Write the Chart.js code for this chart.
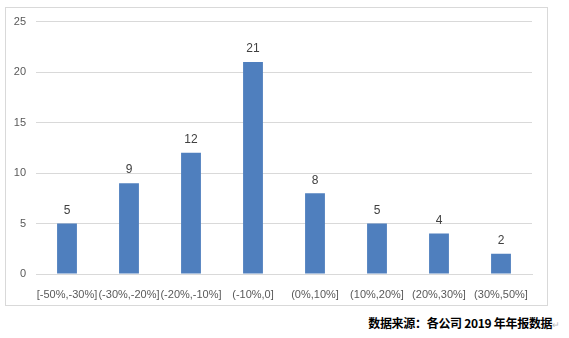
<!DOCTYPE html>
<html lang="zh">
<head>
    <meta charset="UTF-8">
    <title>区间分布</title>
    <script src="https://cdn.jsdelivr.net/npm/chart.js"></script>
    <style>
        body { margin: 0; padding: 0; background: #fff; width: 569px; height: 338px; position: relative; overflow: hidden; }
        .box { position: absolute; left: 5px; top: 7px; width: 541px; height: 297px; border: 1px solid #d9d9d9; }
        .box canvas { position: absolute; left: 0; top: -3px; }
        .source { position: absolute; right: 9px; top: 314px; font-family: "Noto Sans CJK SC", sans-serif; font-weight: bold; font-size: 12px; color: #000; letter-spacing: -0.3px; }
        .source span { color: #bbb; font-weight: normal; font-size: 9px; }
    </style>
</head>
<body>
    <div class="box">
        <canvas id="chart" width="541" height="301"></canvas>
    </div>
    <div class="source">数据来源：各公司 2019 年年报数据<span>↵</span></div>

    <script>
        const categories = ['[-50%,-30%]', '(-30%,-20%]', '(-20%,-10%]', '(-10%,0]', '(0%,10%]', '(10%,20%]', '(20%,30%]', '(30%,50%]'];
        const counts = [5, 9, 12, 21, 8, 5, 4, 2];
        const yTicks = [0, 5, 10, 15, 20, 25];

        // draw the value above each bar
        const valueLabels = {
            id: 'valueLabels',
            afterDatasetsDraw(chart) {
                const ctx = chart.ctx;
                const meta = chart.getDatasetMeta(0);
                ctx.save();
                ctx.font = '12px "Liberation Sans", sans-serif';
                ctx.fillStyle = '#404040';
                ctx.textAlign = 'center';
                ctx.textBaseline = 'bottom';
                meta.data.forEach((bar, i) => {
                    ctx.fillText(String(counts[i]), bar.x, bar.y - 7);
                });
                ctx.restore();
            }
        };

        new Chart(document.getElementById('chart').getContext('2d'), {
            type: 'bar',
            data: {
                labels: categories,
                datasets: [{
                    data: counts,
                    backgroundColor: '#4f7fbe',
                    barPercentage: 0.64,
                    categoryPercentage: 0.5
                }]
            },
            options: {
                responsive: false,
                animation: false,
                layout: { padding: { top: 6, right: 15, left: 0, bottom: 0 } },
                plugins: { legend: { display: false }, tooltip: { enabled: false } },
                scales: {
                    x: {
                        grid: { display: false },
                        border: { color: '#d9d9d9' },
                        ticks: { color: '#595959', font: { family: 'Liberation Sans', size: 11 }, padding: 6, maxRotation: 0, autoSkip: false },
                        afterFit(scale) { scale.height = 32; }
                    },
                    y: {
                        min: 0,
                        max: 25,
                        afterBuildTicks(scale) { scale.ticks = yTicks.map(v => ({ value: v })); },
                        grid: { color: '#d9d9d9', drawTicks: false },
                        border: { display: false },
                        ticks: { color: '#595959', font: { family: 'Liberation Sans', size: 11 }, padding: 10 },
                        afterFit(scale) { scale.width = 30; }
                    }
                }
            },
            plugins: [valueLabels]
        });
    </script>
</body>
</html>
